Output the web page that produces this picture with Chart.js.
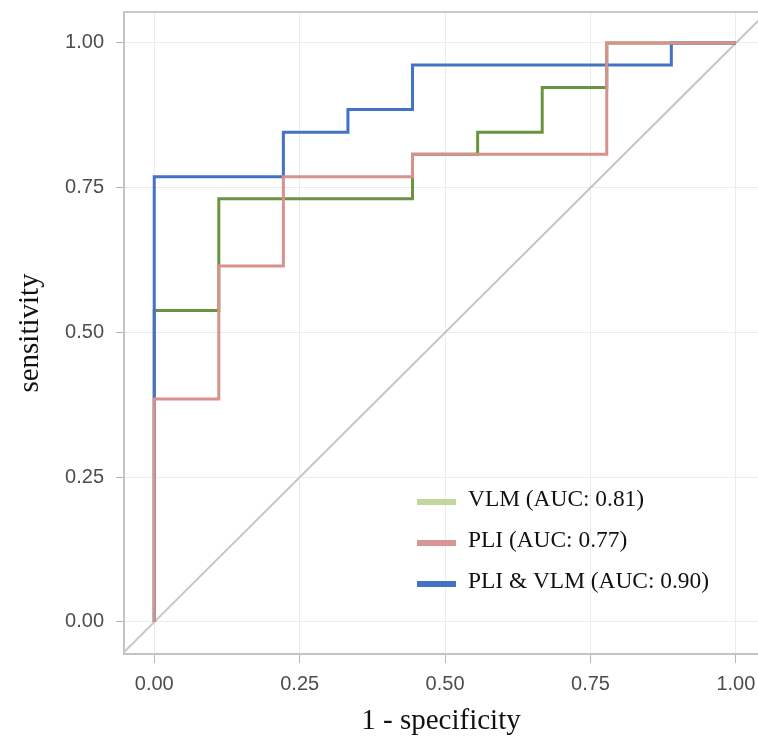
<!DOCTYPE html>
<html>
<head>
<meta charset="utf-8">
<script src="https://cdn.jsdelivr.net/npm/chart.js@4.4.1/dist/chart.umd.min.js"></script>
<style>
  body { margin: 0; background: #fff; }
</style>
</head>
<body>
<canvas id="roc" width="758" height="739"></canvas>
<script>
// ROC points (1 - specificity, sensitivity), corners of each step
const vlmFpr = [0, 0, 0.111, 0.444, 0.556, 0.667, 0.778, 1];
const vlmTpr = [0, 0.538, 0.731, 0.808, 0.846, 0.923, 1, 1];

const pliFpr = [0, 0, 0.111, 0.222, 0.444, 0.778, 1];
const pliTpr = [0, 0.385, 0.615, 0.769, 0.808, 1, 1];

const bothFpr = [0, 0, 0.222, 0.333, 0.444, 0.889, 1];
const bothTpr = [0, 0.769, 0.846, 0.885, 0.962, 1, 1];

const diagonal = [-0.1, 1.1];

const tickValues = [0, 0.25, 0.5, 0.75, 1];
const seriesLabels = ["VLM (AUC: 0.81)", "PLI (AUC: 0.77)", "PLI & VLM (AUC: 0.90)"];

const toPoints = (xs, ys) => xs.map((x, i) => ({ x: x, y: ys[i] }));

// draws the legend inside the plot, bottom right
const insideLegend = {
  id: "insideLegend",
  afterDraw(chart) {
    const ctx = chart.ctx;
    const area = chart.chartArea;
    const items = chart.data.datasets.filter((d) => d.legendColor);
    items.sort((a, b) => a.legendIndex - b.legendIndex);
    const x0 = area.left + 293;
    let y = area.top + 490;
    ctx.save();
    ctx.font = "23.4px 'Liberation Serif'";
    ctx.textBaseline = "middle";
    items.forEach((d) => {
      ctx.fillStyle = d.legendColor;
      ctx.fillRect(x0, y - 3, 39, 6);
      ctx.fillStyle = "#111";
      ctx.fillText(d.label, x0 + 51, y - 2);
      y += 41;
    });
    ctx.restore();
  },
};

// top edge of the plot frame
const topFrame = {
  id: "topFrame",
  afterDraw(chart) {
    const ctx = chart.ctx;
    const area = chart.chartArea;
    ctx.save();
    ctx.strokeStyle = "#c9c9c9";
    ctx.lineWidth = 2;
    ctx.beginPath();
    ctx.moveTo(area.left, area.top);
    ctx.lineTo(area.right, area.top);
    ctx.stroke();
    ctx.restore();
  },
};

const setTicks = (scale) => {
  scale.ticks = tickValues.map((v) => ({ value: v }));
};

const ctx = document.getElementById("roc").getContext("2d");

new Chart(ctx, {
  type: "line",
  data: {
    datasets: [
      {
        label: seriesLabels[1],
        data: toPoints(pliFpr, pliTpr),
        borderColor: "#d8928e",
        legendColor: "#d99694",
        legendIndex: 1,
        borderWidth: 3,
        stepped: "before",
        pointRadius: 0,
        order: 0,
      },
      {
        label: seriesLabels[2],
        data: toPoints(bothFpr, bothTpr),
        borderColor: "#4472c4",
        legendColor: "#4472c4",
        legendIndex: 2,
        borderWidth: 3,
        stepped: "before",
        pointRadius: 0,
        order: 1,
      },
      {
        label: seriesLabels[0],
        data: toPoints(vlmFpr, vlmTpr),
        borderColor: "#6a9440",
        legendColor: "#c3d69b",
        legendIndex: 0,
        borderWidth: 3,
        stepped: "before",
        pointRadius: 0,
        order: 2,
      },
      {
        label: "reference",
        data: toPoints(diagonal, diagonal),
        borderColor: "#c6c6c6",
        borderWidth: 2,
        pointRadius: 0,
        order: 3,
      },
    ],
  },
  options: {
    responsive: false,
    animation: false,
    layout: {
      padding: { top: 12, right: 0, bottom: 0, left: 0 },
    },
    plugins: {
      legend: { display: false },
      tooltip: { enabled: false },
    },
    scales: {
      x: {
        type: "linear",
        min: -0.052,
        max: 1.038,
        afterBuildTicks: setTicks,
        afterFit: (s) => {
          s.height = 85;
          s.paddingLeft = 0;
          s.paddingRight = 0;
        },
        grid: { color: "#ececec", tickColor: "#b5b5b5", tickLength: 9 },
        border: { color: "#c4c4c4", width: 2 },
        ticks: {
          color: "#4d4d4d",
          font: { family: "'Liberation Sans'", size: 20 },
          padding: 9,
          callback: (v) => v.toFixed(2),
        },
        title: {
          display: true,
          text: "1 - specificity",
          color: "#111",
          font: { family: "'Liberation Serif'", size: 29 },
          padding: { top: 0, bottom: 0 },
        },
      },
      y: {
        type: "linear",
        min: -0.0553,
        max: 1.0535,
        afterBuildTicks: setTicks,
        afterFit: (s) => {
          s.width = 124;
          s.paddingTop = 0;
          s.paddingBottom = 0;
        },
        grid: { color: "#ececec", tickColor: "#b5b5b5", tickLength: 8 },
        border: { color: "#c4c4c4", width: 2 },
        ticks: {
          color: "#4d4d4d",
          font: { family: "'Liberation Sans'", size: 20 },
          padding: 12,
          callback: (v) => v.toFixed(2),
        },
        title: {
          display: true,
          text: "sensitivity",
          color: "#111",
          font: { family: "'Liberation Serif'", size: 29 },
          padding: { top: 13, bottom: 0 },
        },
      },
    },
  },
  plugins: [insideLegend, topFrame],
});
</script>
</body>
</html>
